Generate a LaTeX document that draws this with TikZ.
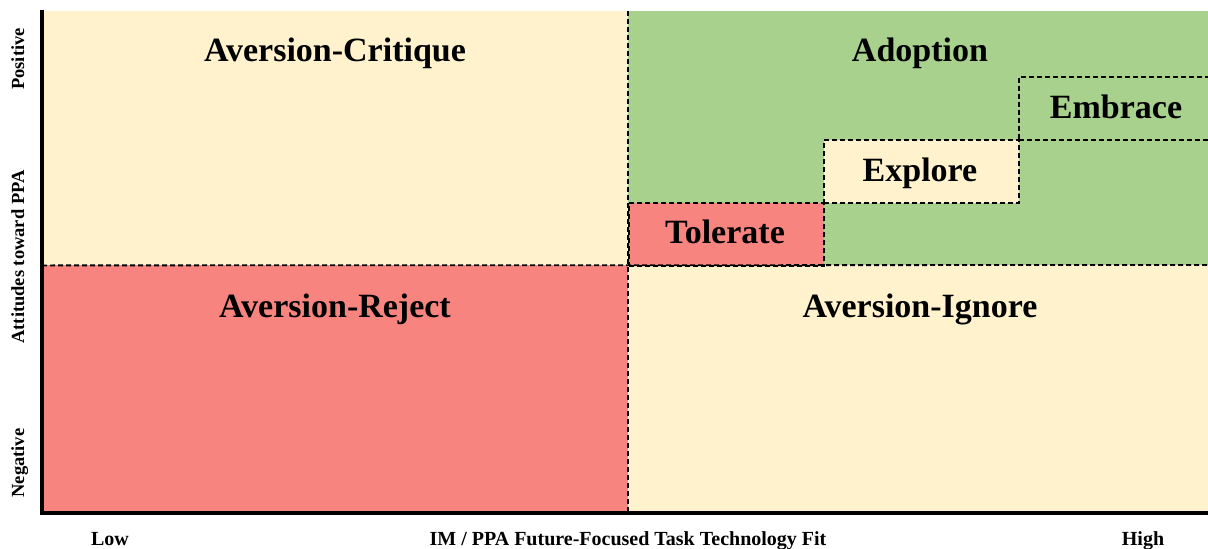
\documentclass[tikz,border=0pt]{standalone}
\usepackage{fontspec}
\setmainfont{Liberation Serif}
\begin{document}
\begin{tikzpicture}[x=1pt,y=-1pt,
  cell/.style={draw=none,inner sep=0pt,anchor=north west},
  divider/.style={line width=1.8pt,dash pattern=on 5pt off 3pt},
  stepbox/.style={draw,line width=1.7pt,dash pattern=on 5pt off 3pt,inner sep=0pt,anchor=north west},
  region/.style={font=\bfseries\fontsize{34}{38}\selectfont,anchor=base},
  axislabel/.style={font=\bfseries\fontsize{20}{24}\selectfont,anchor=base},
  sidelabel/.style={font=\bfseries\fontsize{18.5}{22}\selectfont,anchor=base,rotate=90},
  axisline/.style={line width=3.2pt}]
\useasboundingbox (0,0) rectangle (1208,549);
\definecolor{cream}{HTML}{FFF2CC}
\definecolor{leaf}{HTML}{A9D18E}
\definecolor{salmon}{HTML}{F8847F}
% four quadrants
\node[cell,fill=cream,minimum width=586pt,minimum height=254pt] (crit) at (42,11) {};
\node[cell,fill=leaf,minimum width=580pt,minimum height=254pt] (adopt) at (628,11) {};
\node[cell,fill=salmon,minimum width=586pt,minimum height=248pt] (rej) at (42,265) {};
\node[cell,fill=cream,minimum width=580pt,minimum height=248pt] (ign) at (628,265) {};
% staircase of adoption stages
\node[stepbox,fill=salmon,minimum width=195pt,minimum height=63pt] (tol) at (628,202) {};
\node[stepbox,fill=cream,minimum width=195pt,minimum height=63pt] (expl) at (823,139) {};
\node[stepbox,fill=leaf,minimum width=200pt,minimum height=63pt] (emb) at (1018,76) {};
% quadrant dividers
\draw[divider] (crit.south west) -- (ign.north east);
\draw[divider] (adopt.north west) -- (ign.south west);
% region labels
\node[region] at (335,61) {Aversion-Critique};
\node[region] at (920,61) {Adoption};
\node[region] at (1116,118) {Embrace};
\node[region] at (920,181) {Explore};
\node[region] at (725,243) {Tolerate};
\node[region] at (335,317) {Aversion-Reject};
\node[region] at (920,317) {Aversion-Ignore};
% axes
\coordinate (ytop) at (42,10);
\coordinate (origin) at (42,513);
\coordinate (xend) at (1208,513);
\draw[axisline] (ytop) -- (origin) -- (xend);
% axis labels
\node[sidelabel] at (24,59) {Positive};
\node[sidelabel] at (24,257) {Attitudes toward PPA};
\node[sidelabel] at (24,463) {Negative};
\node[axislabel] at (110,545) {Low};
\node[axislabel] at (628,545) {IM / PPA Future-Focused Task Technology Fit};
\node[axislabel] at (1143,545) {High};
\end{tikzpicture}
\end{document}
